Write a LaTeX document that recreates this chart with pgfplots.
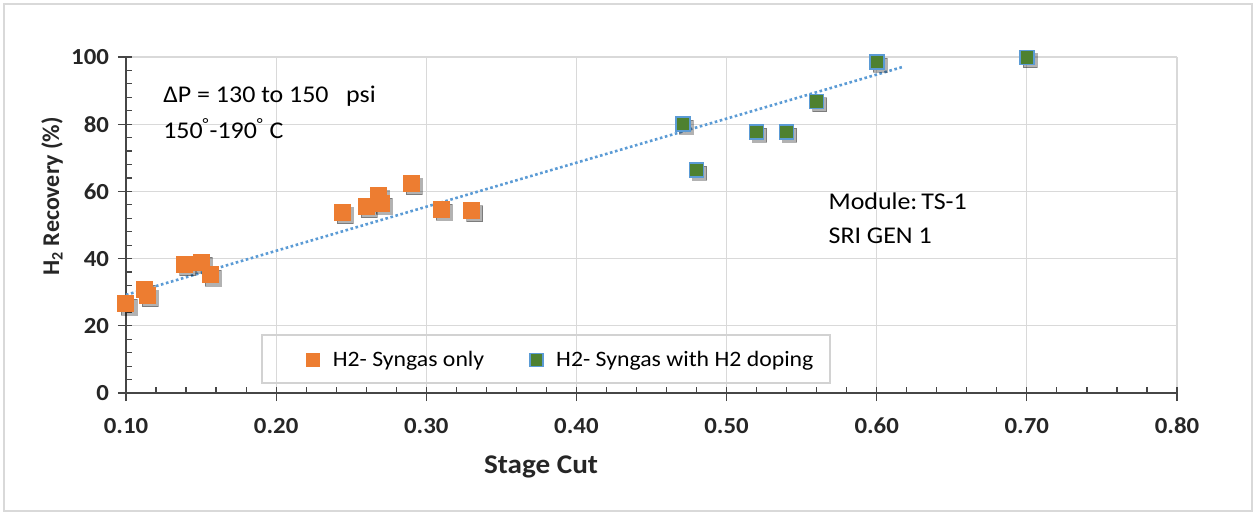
\documentclass[border=0pt]{standalone}
\usepackage{pgfplots}
\pgfplotsset{compat=1.18}
\usepackage{fontspec}
\setmainfont{Carlito}[FakeStretch=1.08]
\newfontfamily\plainfont{Carlito}
\definecolor{orng}{HTML}{ED7D31}
\definecolor{grn}{HTML}{4E8130}
\definecolor{blu}{HTML}{5B9BD5}
\begin{document}
\begin{tikzpicture}
\path[use as bounding box] (-63pt,-60.5pt) rectangle (566pt,196.5pt);
\draw[gray!30, line width=0.8pt] (-61pt,-59pt) rectangle (563pt,194.5pt);
\begin{axis}[
  name=ax, at={(0,0)}, anchor=south west,
  width=525.5pt, height=168pt, scale only axis,
  clip=false,
  xmin=0.1, xmax=0.8, ymin=0, ymax=100,
  xtick={0.1,0.2,0.3,0.4,0.5,0.6,0.7,0.8},
  ytick={0,20,40,60,80,100},
  minor x tick num=4, minor y tick num=4,
  axis x line*=bottom, axis y line*=left,
  grid=major, major grid style={gray!30, line width=0.6pt},
  tick align=inside, major tick length=7pt, minor tick length=3pt,
  every tick/.style={gray!55!black, line width=0.6pt},
  major x tick style={yshift=-4pt},
  major y tick style={xshift=-4pt},
  axis line style={gray!55!black, line width=0.8pt},
  /pgf/number format/assume math mode=true,
  ticklabel style={font=\fontsize{11.5}{13}\selectfont\bfseries, text=black!85},
  xticklabel style={yshift=-9pt, /pgf/number format/.cd, fixed, fixed zerofill, precision=2},
  yticklabel style={xshift=-5pt, /pgf/number format/.cd, fixed, precision=0},
  legend columns=2,
  legend cell align=left,
  legend style={draw=none, fill=none, inner sep=0pt, at={(rel axis cs:0.1717,0.0982)}, anchor=west,
    font=\fontsize{11}{13}\selectfont,
    nodes={inner sep=0pt},
    /tikz/every odd column/.style={column sep=6.5pt},
    /tikz/every even column/.style={column sep=23pt}},
  legend image code/.code={\draw[#1, mark size=3.25pt] plot coordinates {(3.25pt,0pt)};},
]
% trendline
\addplot[forget plot, blu, line width=1.3pt, dash pattern=on 1.3pt off 1.3pt] coordinates {(0.1,29.2) (0.617,97.0)};
% shadows
\addplot[forget plot, only marks, mark=square*, mark size=4pt, mark options={fill=black, draw=none, opacity=0.3, xshift=1.6pt, yshift=-1.6pt}] coordinates {
(0.100,26.5) (0.112,30.7) (0.114,29.0) (0.139,38.2) (0.150,38.9) (0.156,35.2) (0.244,53.7) (0.260,55.5) (0.268,58.8) (0.270,56.5) (0.290,62.4) (0.310,54.7) (0.330,54.3)};
\addplot[forget plot, only marks, mark=square*, mark size=3.5pt, mark options={fill=black, draw=none, opacity=0.3, xshift=1.6pt, yshift=-1.6pt}] coordinates {
(0.471,80.1) (0.480,66.4) (0.520,77.7) (0.540,77.7) (0.560,86.8) (0.600,98.6) (0.700,99.8)};
\addplot[only marks, mark=square*, mark size=4pt, mark options={fill=orng, draw=orng, line width=0.5pt}] coordinates {
(0.100,26.5) (0.112,30.7) (0.114,29.0) (0.139,38.2) (0.150,38.9) (0.156,35.2) (0.244,53.7) (0.260,55.5) (0.268,58.8) (0.270,56.5) (0.290,62.4) (0.310,54.7) (0.330,54.3)};
\addlegendentry{H2- Syngas only}
\addplot[only marks, mark=square*, mark size=3.5pt, mark options={fill=grn, draw=blu, line width=0.8pt}] coordinates {
(0.471,80.1) (0.480,66.4) (0.520,77.7) (0.540,77.7) (0.560,86.8) (0.600,98.6) (0.700,99.8)};
\addlegendentry{H2- Syngas with H2 doping}
% legend frame
\draw[gray!35, line width=0.6pt] (rel axis cs:0.1294,0.0298) rectangle (rel axis cs:0.6698,0.1726);
% annotations
\node[anchor=base west, font=\fontsize{12}{14}\selectfont, inner sep=0pt] at (axis cs:0.1246,86.4) {ΔP = 130 to 150\ \ \ psi};
\node[anchor=base west, font=\fontsize{12}{14}\selectfont, inner sep=0pt] at (axis cs:0.1246,75.8) {150\textsuperscript{°}-190\textsuperscript{°}\ C};
\node[anchor=base west, font=\fontsize{12}{14}\selectfont, inner sep=0pt] at (axis cs:0.5677,54.5) {Module:\,TS-1};
\node[anchor=base west, font=\fontsize{12}{14}\selectfont, inner sep=0pt] at (axis cs:0.5677,44.6) {SRI GEN 1};
% axis labels
\node[font=\fontsize{13.5}{15}\selectfont\bfseries, text=black!85] at ([yshift=-37pt]rel axis cs:0.3949,0) {Stage Cut};
\node[rotate=90, font=\plainfont\fontsize{12}{14}\selectfont\bfseries, text=black!85] at ([xshift=-37pt]rel axis cs:0,0.585) {H\textsubscript{2} Recovery (\%)};
\end{axis}
\end{tikzpicture}
\end{document}
